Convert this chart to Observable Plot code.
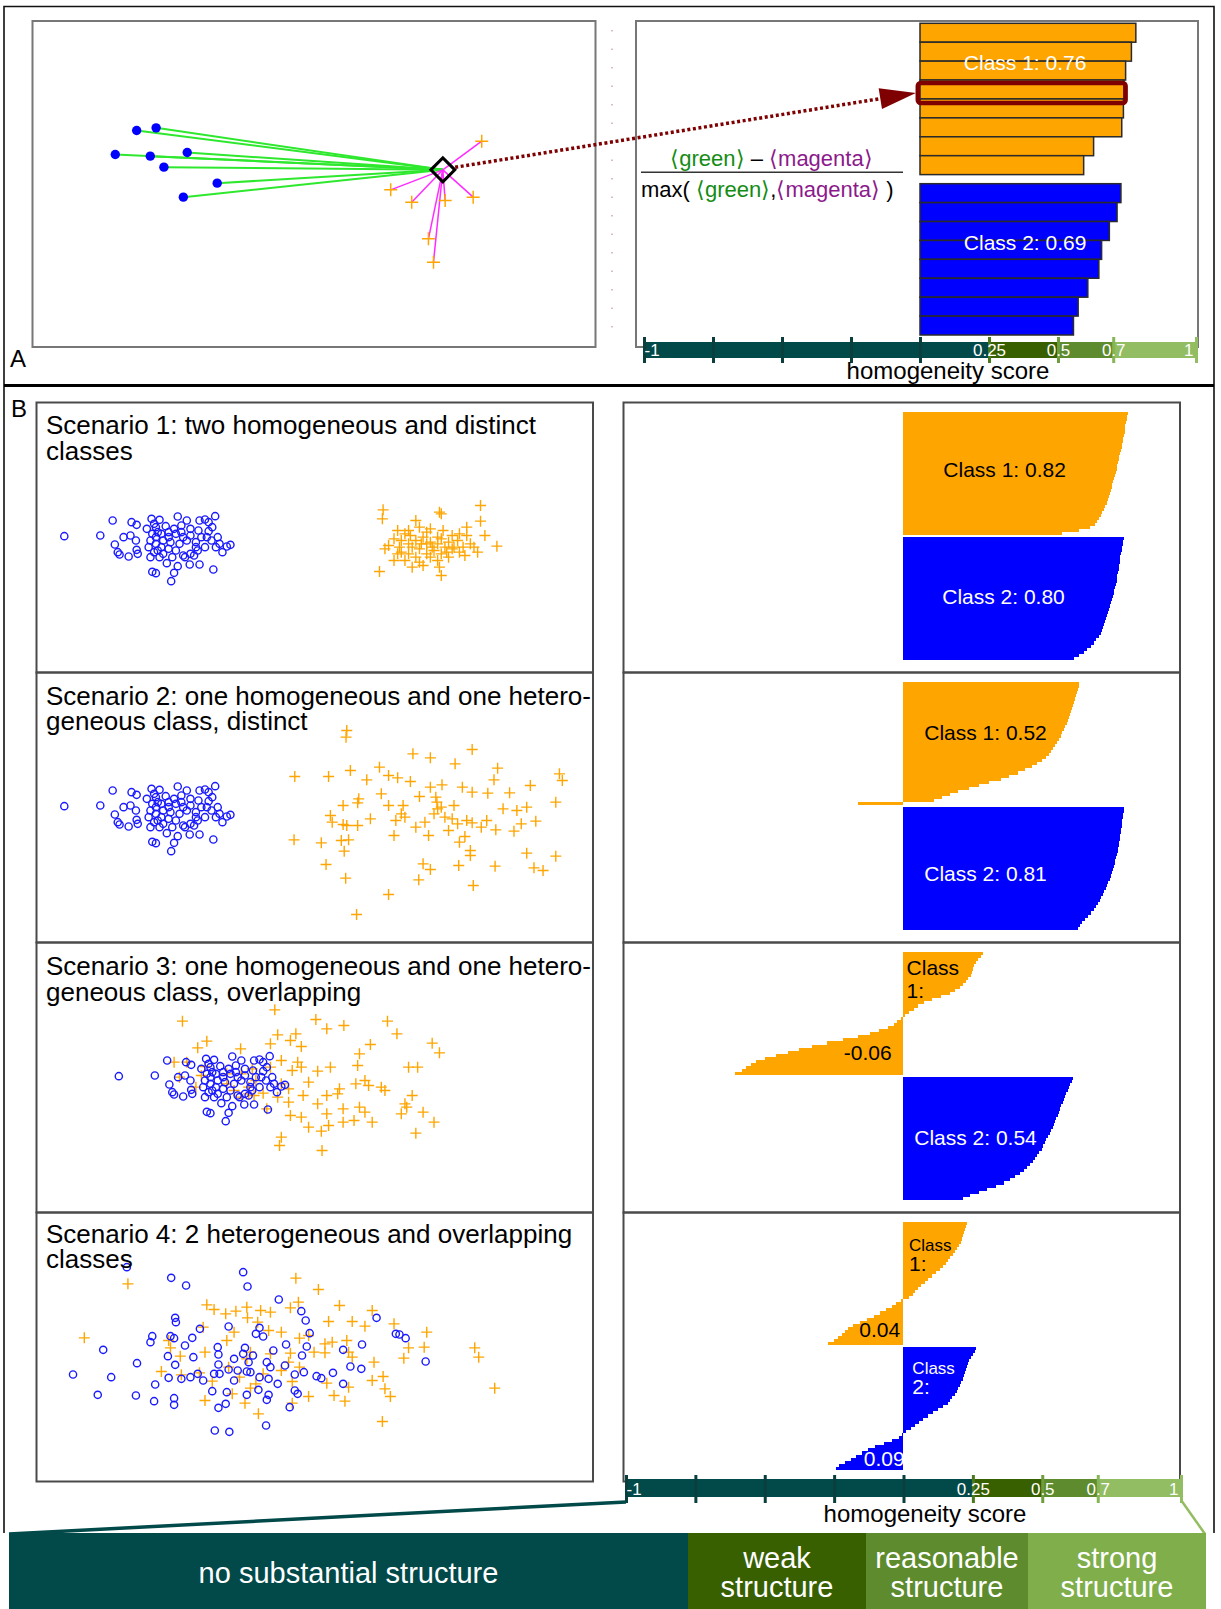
<!DOCTYPE html>
<html><head><meta charset="utf-8">
<script src="https://cdn.jsdelivr.net/npm/d3@7"></script>
<script src="https://cdn.jsdelivr.net/npm/@observablehq/plot@0.6"></script>
<style>
html,body{margin:0;padding:0;background:#fff;}
#root{position:relative;width:1221px;height:1609px;overflow:hidden;font-family:"Liberation Sans",Arial,Helvetica,sans-serif;}
.lbox{position:absolute;top:1533px;height:76px;color:#fff;display:flex;align-items:center;justify-content:center;text-align:center;font-size:29px;line-height:29px;box-sizing:border-box;padding-top:4px;}
</style></head><body><div id="root"></div>
<script>
// ---------------- DATA ----------------
const classes = ["Class 1", "Class 2"];
const scoreTicks = [-1, -0.75, -0.5, -0.25, 0, 0.25, 0.5, 0.7, 1];
const tickLabels = ["-1", "", "", "", "", "0.25", "0.5", "0.7", "1"];
const bandBreaks = [-1, 0.25, 0.5, 0.7, 1];
const bandNames = ["no substantial structure", "weak structure", "reasonable structure", "strong structure"];
const titles = [
  ["Scenario 1: two homogeneous and distinct", "classes"],
  ["Scenario 2: one homogeneous and one hetero-", "geneous class, distinct"],
  ["Scenario 3: one homogeneous and one hetero-", "geneous class, overlapping"],
  ["Scenario 4: 2 heterogeneous and overlapping", "classes"]
];
// panel A (feature space units)
const aBlue = [[350,390],[400,382],[295,462],[385,467],[480,456],[420,500],[557,548],[470,590]];
const aOrange = [[1237,422],[1003,568],[1057,605],[1143,600],[1215,590],[1100,715],[1113,785]];
const aQuery = [1137,508];
const silA1 = [0.782,0.766,0.745,0.739,0.737,0.731,0.629,0.593];
const silA2 = [0.728,0.714,0.686,0.658,0.648,0.608,0.573,0.556];
const meansA = ["0.76","0.69"];
// scenario 1
const s1Blue = [[93,407],[192,405],[226,360],[278,365],[292,373],[256,410],[275,405],[232,432],[290,420],[240,455],[245,462],[270,468],[295,460],[292,448],[333,355],[355,358],[340,370],[320,385],[345,380],[372,377],[405,348],[430,360],[415,375],[440,385],[465,360],[480,357],[490,365],[508,347],[462,390],[490,392],[515,410],[498,420],[520,430],[540,438],[550,433],[528,455],[510,440],[480,440],[460,450],[440,460],[420,465],[400,450],[380,445],[360,440],[345,430],[330,420],[345,410],[360,400],[335,400],[350,395],[380,410],[400,400],[420,410],[430,420],[455,425],[470,410],[440,405],[415,395],[395,385],[330,470],[355,470],[375,488],[405,497],[438,492],[465,492],[503,507],[335,514],[345,518],[395,517],[387,542],[425,470],[450,465],[390,470],[365,460],[410,430],[385,425],[365,420],[350,450],[455,440],[485,410],[500,380],[380,395],[325,440],[340,455]];
const s1Orange = [[970,328],[968,355],[1125,335],[1130,340],[1238,315],[1238,362],[1200,380],[1250,405],[1283,437],[960,513],[1130,525],[1000,480],[1050,500],[1080,495],[1120,480],[985,435],[975,445],[1010,390],[1030,400],[1060,360],[1070,380],[1100,385],[1135,390],[1160,405],[1175,420],[1190,440],[1195,465],[1230,455],[1210,430],[1000,415],[1020,420],[1040,430],[1060,420],[1080,410],[1100,425],[1120,430],[1140,440],[1160,445],[1180,455],[1020,455],[1040,460],[1060,470],[1090,460],[1110,450],[1130,460],[1150,470],[1010,460],[1050,440],[1070,445],[1090,430],[1120,410],[1150,425],[1040,390],[1090,395],[1130,415],[1165,440],[1200,405],[1220,440],[1030,480],[1070,485],[1100,470],[1125,500],[1180,400],[1045,405],[1015,440],[1075,430],[1105,440],[1145,455]];
const sil1Class1 = [0.811,0.809,0.807,0.805,0.803,0.802,0.800,0.798,0.796,0.794,0.791,0.789,0.786,0.784,0.781,0.779,0.776,0.774,0.771,0.768,0.765,0.762,0.759,0.756,0.753,0.750,0.746,0.743,0.740,0.736,0.731,0.726,0.720,0.715,0.708,0.700,0.692,0.675,0.636,0.575];
const sil1Class2 = [0.797,0.795,0.793,0.791,0.789,0.787,0.785,0.784,0.782,0.780,0.778,0.776,0.774,0.772,0.771,0.769,0.766,0.763,0.760,0.757,0.755,0.751,0.747,0.744,0.740,0.736,0.733,0.729,0.725,0.721,0.717,0.713,0.706,0.698,0.690,0.678,0.666,0.652,0.636,0.617];
const means1 = ["0.82","0.80"];
// scenario 2
const s2Blue = s1Blue;
const s2Orange = [[870,180],[868,200],[1215,237],[1052,250],[1100,262],[1168,280],[1285,293],[727,318],[820,318],[880,300],[925,328],[960,290],[985,315],[1010,322],[1045,333],[1275,328],[1455,310],[1463,330],[1100,350],[1132,343],[1188,350],[1215,365],[1258,368],[1318,367],[1375,345],[965,370],[1070,378],[1115,380],[903,385],[1118,395],[860,405],[900,397],[985,405],[1025,405],[1130,410],[1165,405],[1300,415],[1338,420],[1365,410],[1445,395],[825,435],[935,445],[1005,450],[1020,430],[1085,455],[1140,440],[1200,450],[1255,450],[1280,478],[1350,460],[1390,452],[860,462],[900,465],[870,465],[1150,480],[1175,460],[1215,457],[1330,482],[1000,495],[1095,495],[1195,498],[1180,515],[725,508],[800,517],[855,510],[875,508],[863,542],[1210,540],[1210,555],[1365,548],[1445,557],[813,582],[1080,580],[1100,597],[1178,585],[1278,587],[1385,592],[1410,600],[867,623],[1068,628],[1218,645],[985,672],[897,732],[1030,440],[1060,470],[1110,430],[1160,445],[1240,470],[830,455],[1120,415]];
const sil2Class1 = [0.637,0.634,0.630,0.627,0.624,0.621,0.618,0.614,0.611,0.607,0.604,0.600,0.595,0.591,0.586,0.580,0.575,0.570,0.563,0.556,0.550,0.543,0.535,0.527,0.515,0.500,0.485,0.466,0.442,0.414,0.383,0.352,0.312,0.276,0.240,0.200,0.170,0.141,0.111,-0.164];
const sil2Class2 = [0.799,0.797,0.795,0.794,0.792,0.791,0.789,0.788,0.786,0.785,0.783,0.781,0.779,0.777,0.775,0.773,0.770,0.767,0.764,0.761,0.758,0.754,0.750,0.746,0.741,0.737,0.732,0.727,0.722,0.716,0.710,0.703,0.696,0.688,0.678,0.668,0.657,0.648,0.639,0.630];
const means2 = ["0.52","0.81"];
// scenario 3
const s3Blue = [[243,407],[342,405],[376,360],[428,365],[442,373],[406,410],[425,405],[382,432],[440,420],[390,455],[395,462],[420,468],[445,460],[442,448],[483,355],[505,358],[490,370],[470,385],[495,380],[522,377],[555,348],[580,360],[565,375],[590,385],[615,360],[630,357],[640,365],[658,347],[612,390],[640,392],[665,410],[648,420],[670,430],[690,438],[700,433],[678,455],[660,440],[630,440],[610,450],[590,460],[570,465],[550,450],[530,445],[510,440],[495,430],[480,420],[495,410],[510,400],[485,400],[500,395],[530,410],[550,400],[570,410],[580,420],[605,425],[620,410],[590,405],[565,395],[545,385],[480,470],[505,470],[525,488],[555,497],[588,492],[615,492],[653,507],[485,514],[495,518],[545,517],[537,542],[575,470],[600,465],[540,470],[515,460],[560,430],[535,425],[515,420],[500,450],[605,440],[635,410],[650,380],[530,395],[475,440],[490,455]];
const s3Orange = [[672,208],[418,242],[785,237],[862,255],[815,265],[982,242],[1008,280],[680,283],[730,280],[715,300],[485,302],[460,322],[578,325],[660,310],[745,318],[935,312],[1105,308],[1125,337],[905,340],[395,365],[430,365],[480,378],[690,360],[735,365],[745,380],[900,375],[1040,380],[1065,380],[720,390],[790,392],[825,380],[410,410],[470,405],[540,400],[580,400],[610,385],[765,425],[895,430],[920,420],[930,435],[965,440],[975,450],[690,430],[710,445],[850,445],[845,460],[750,465],[815,465],[1050,465],[600,460],[615,465],[640,458],[680,470],[710,485],[790,490],[860,505],[905,500],[920,515],[1030,490],[1020,520],[1080,515],[650,505],[715,525],[745,530],[815,520],[860,545],[890,540],[940,545],[1110,545],[765,560],[820,555],[800,572],[690,590],[685,615],[1060,578],[802,630],[560,450],[580,470],[600,440],[540,430],[455,440],[620,420],[660,380],[1035,500]];
const sil3Class1 = [0.288,0.280,0.272,0.264,0.258,0.254,0.250,0.244,0.236,0.228,0.218,0.205,0.188,0.168,0.138,0.105,0.075,0.055,0.038,0.022,0.006,-0.008,-0.020,-0.032,-0.055,-0.085,-0.120,-0.164,-0.215,-0.275,-0.330,-0.375,-0.415,-0.460,-0.500,-0.530,-0.550,-0.566,-0.580,-0.605];
const sil3Class2 = [0.613,0.609,0.604,0.599,0.594,0.589,0.585,0.581,0.576,0.572,0.568,0.563,0.558,0.554,0.549,0.545,0.540,0.535,0.530,0.524,0.518,0.512,0.506,0.500,0.492,0.484,0.476,0.468,0.458,0.447,0.436,0.422,0.406,0.385,0.363,0.335,0.302,0.275,0.243,0.215];
const means3 = ["-0.06","0.54"];
// scenario 4
const s4Blue = [[265,170],[387,202],[428,225],[585,185],[597,228],[683,267],[745,302],[757,330],[952,322],[398,322],[400,335],[466,355],[545,348],[620,370],[630,352],[640,378],[768,368],[1005,370],[1015,372],[1032,383],[335,377],[330,395],[385,377],[395,383],[445,382],[425,405],[200,418],[378,437],[448,440],[515,410],[517,432],[590,412],[585,430],[612,435],[668,420],[703,402],[760,408],[747,435],[860,418],[912,402],[293,458],[398,463],[517,462],[545,477],[600,455],[570,480],[605,485],[650,455],[660,470],[700,465],[880,468],[910,475],[1087,453],[117,492],[222,500],[380,502],[415,505],[460,490],[475,510],[505,490],[520,490],[595,483],[655,505],[680,520],[727,492],[752,485],[787,497],[800,503],[832,487],[860,520],[343,522],[185,553],[290,555],[340,572],[395,563],[395,583],[500,542],[540,545],[560,510],[595,553],[627,538],[655,553],[650,568],[727,540],[735,550],[517,592],[537,580],[713,590],[648,645],[507,660],[547,664],[440,500],[630,500],[560,445]];
const s4Orange = [[268,220],[730,203],[792,237],[148,382],[485,283],[505,297],[537,310],[565,302],[595,290],[597,322],[633,300],[660,305],[625,335],[715,292],[737,275],[850,285],[940,300],[820,333],[885,333],[920,347],[1000,340],[1090,365],[475,350],[560,365],[655,360],[690,365],[740,383],[765,375],[540,390],[810,400],[830,395],[870,390],[380,390],[385,412],[412,437],[480,425],[595,445],[605,425],[715,428],[710,455],[780,425],[810,427],[875,425],[885,440],[1040,412],[1083,410],[1027,443],[1222,412],[1233,440],[945,455],[360,483],[415,493],[465,487],[545,470],[575,500],[640,490],[690,480],[720,513],[815,518],[875,530],[940,510],[970,498],[975,535],[990,558],[480,570],[555,550],[590,578],[605,533],[620,520],[765,558],[835,555],[865,572],[720,578],[627,610],[968,633],[1277,533],[500,512],[660,430],[740,470]];
const sil4Class1 = [0.231,0.228,0.224,0.221,0.217,0.212,0.208,0.202,0.196,0.188,0.179,0.171,0.163,0.154,0.146,0.133,0.118,0.104,0.091,0.078,0.066,0.055,0.045,0.036,0.020,-0.008,-0.024,-0.039,-0.060,-0.083,-0.105,-0.130,-0.155,-0.180,-0.197,-0.210,-0.222,-0.234,-0.250,-0.270];
const sil4Class2 = [0.264,0.259,0.254,0.247,0.240,0.235,0.232,0.228,0.224,0.220,0.216,0.211,0.206,0.200,0.194,0.187,0.178,0.170,0.162,0.145,0.125,0.107,0.089,0.074,0.057,0.042,0.028,0.012,-0.002,-0.015,-0.040,-0.068,-0.100,-0.125,-0.148,-0.168,-0.188,-0.210,-0.232,-0.243];
const means4 = ["0.04","0.09"];

// ---------------- STYLE / LAYOUT ----------------
const FONT = '"Liberation Sans", Arial, Helvetica, sans-serif';
const ORANGE = "#FFA500", BLUE = "#0000FF", BLUE_PT = "#1a1aff";
const BAR_COLORS = ["#02494a", "#386000", "#5e8b2d", "#93bd62"];
const BOX_COLORS = ["#02494a", "#386000", "#5e8b2d", "#7fae4b"];
const tickColor = t => t <= 0 ? "#0a3f3d" : t === 0.25 ? "#4a791d" : t === 0.5 ? "#6f9c3d" : t === 0.7 ? "#86b556" : "#93bd62";
// stroke-only plus whose arm length equals r
const plusSym = {draw(ctx, size) { const a = Math.sqrt(size / Math.PI); ctx.moveTo(-a, 0); ctx.lineTo(a, 0); ctx.moveTo(0, -a); ctx.lineTo(0, a); }};
const root = document.getElementById("root");
function put(el, left, top) { el.style.position = "absolute"; el.style.left = left + "px"; el.style.top = top + "px"; root.appendChild(el); return el; }
const TRANSP = {background: "transparent", overflow: "visible"};

// back layer: frames
const back = d3.create("svg").attr("width", 1221).attr("height", 1609);
put(back.node(), 0, 0);
back.append("path").attr("d", "M4,1533V6.5H1214V1533").attr("fill", "none").attr("stroke", "#111").attr("stroke-width", 1.6);
back.append("line").attr("x1", 4).attr("x2", 1214).attr("y1", 385.5).attr("y2", 385.5).attr("stroke", "#000").attr("stroke-width", 3);
back.append("rect").attr("x", 32.5).attr("y", 21).attr("width", 563).attr("height", 326).attr("fill", "none").attr("stroke", "#777").attr("stroke-width", 2);
back.append("rect").attr("x", 636).attr("y", 21).attr("width", 562).attr("height", 326).attr("fill", "none").attr("stroke", "#777").attr("stroke-width", 2);
back.append("line").attr("x1", 612).attr("x2", 612).attr("y1", 30).attr("y2", 335).attr("stroke", "#c9a9a9").attr("stroke-width", 1.5).attr("stroke-dasharray", "1.5 17");
const tops = [402.5, 672.5, 942.5, 1212.5, 1481.5];
for (let k = 0; k < 4; k++) {
  back.append("rect").attr("x", 36.5).attr("y", tops[k]).attr("width", 556.5).attr("height", tops[k+1] - tops[k]).attr("fill", "none").attr("stroke", "#4a4a4a").attr("stroke-width", 2);
  back.append("rect").attr("x", 623.5).attr("y", tops[k]).attr("width", 556.5).attr("height", tops[k+1] - tops[k]).attr("fill", "none").attr("stroke", "#4a4a4a").attr("stroke-width", 2);
}

// ---------------- PANEL A ----------------
const scatA = Plot.plot({
  width: 610, height: 390, margin: 0, style: TRANSP,
  x: {domain: [0, 1568], range: [0, 610], axis: null},
  y: {domain: [0, 1170], range: [0, 390], axis: null},
  marks: [
    Plot.link(aBlue, {x1: () => aQuery[0], y1: () => aQuery[1], x2: d => d[0], y2: d => d[1], stroke: "#2ee82e", strokeWidth: 2}),
    Plot.link(aOrange, {x1: () => aQuery[0], y1: () => aQuery[1], x2: d => d[0], y2: d => d[1], stroke: "#ff2cff", strokeWidth: 1.5}),
    Plot.dot(aBlue, {x: d => d[0], y: d => d[1], r: 4.7, fill: BLUE}),
    Plot.dot(aOrange, {x: d => d[0], y: d => d[1], symbol: plusSym, r: 6.5, fill: "none", stroke: ORANGE, strokeWidth: 1.5}),
    Plot.dot([aQuery], {x: d => d[0], y: d => d[1], symbol: "diamond2", r: 10.8, stroke: "#000", strokeWidth: 3, fill: "none"})
  ]
});
put(scatA, 0, 0);

const gapA = 0.48;
const rowsA1 = silA1.map((v, i) => ({v, y1: i, y2: i + 1}));
const rowsA2 = silA2.map((v, i) => ({v, y1: silA1.length + gapA + i, y2: silA1.length + gapA + i + 1}));
const silAPlot = Plot.plot({
  width: 611, height: 390, margin: 0, style: TRANSP,
  x: {domain: [-1, 1], range: [34, 586], axis: null},
  y: {domain: [0, silA1.length + gapA + silA2.length], range: [23.3, 335], axis: null},
  marks: [
    Plot.rect(rowsA1, {x1: () => 0, x2: "v", y1: "y1", y2: "y2", fill: ORANGE, stroke: "#2a2a2a", strokeWidth: 1.5}),
    Plot.rect(rowsA2, {x1: () => 0, x2: "v", y1: "y1", y2: "y2", fill: BLUE, stroke: "#2a2a2a", strokeWidth: 1.5}),
    Plot.rect([rowsA1[3]], {x1: () => -0.008, x2: d => d.v + 0.006, y1: d => d.y1 + 0.16, y2: d => d.y2 + 0.22, fill: "none", stroke: "#7f0000", strokeWidth: 4.5, rx: 3}),
    Plot.text([`${classes[0]}: ${meansA[0]}`], {x: () => 0.379, y: () => 2.1, text: d => d, fill: "white", fontSize: 21, fontFamily: FONT}),
    Plot.text([`${classes[1]}: ${meansA[1]}`], {x: () => 0.379, y: () => 11.62, text: d => d, fill: "white", fontSize: 21, fontFamily: FONT})
  ]
});
put(silAPlot, 610, 0);

function axisBar(left, top, width, height, range, barInsetTop, barInsetBottom, tickInset, fs) {
  const bands = bandNames.map((name, i) => ({name, lo: bandBreaks[i], hi: bandBreaks[i + 1]}));
  const marks = [
    Plot.rect(bands, {x1: "lo", x2: "hi", fill: "name", insetTop: barInsetTop, insetBottom: barInsetBottom})
  ];
  scoreTicks.forEach(t => marks.push(Plot.ruleX([t], {x: d => d, stroke: tickColor(t), strokeWidth: 3, insetTop: tickInset, insetBottom: tickInset})));
  scoreTicks.forEach((t, i) => {
    if (!tickLabels[i]) return;
    marks.push(Plot.text([tickLabels[i]], {x: () => t, frameAnchor: "middle", text: d => d, fill: "white", fontSize: fs, fontFamily: FONT,
      textAnchor: t === -1 ? "start" : t === 1 ? "end" : "middle", dx: t === 1 ? -3 : 0}));
  });
  const p = Plot.plot({width, height, margin: 0, style: TRANSP,
    x: {domain: [-1, 1], range, axis: null},
    color: {domain: bandNames, range: BAR_COLORS},
    marks});
  return put(p, left, top);
}
const axisA = axisBar(610, 334, 611, 32, [34, 586], 8, 8, 3, 17);

// ---------------- PANEL B ----------------
function scatterB(blue, orange, top) {
  const p = Plot.plot({
    width: 570, height: 275, margin: 0, style: TRANSP,
    x: {domain: [0, 1568], range: [0, 570], axis: null},
    y: {domain: [0, 825], range: [0, 275], axis: null},
    marks: [
      Plot.dot(orange, {x: d => d[0], y: d => d[1], symbol: plusSym, r: 5.5, fill: "none", stroke: ORANGE, strokeWidth: 1.4}),
      Plot.dot(blue, {x: d => d[0], y: d => d[1], r: 3.6, stroke: BLUE_PT, strokeWidth: 1.4, fill: "none"})
    ]
  });
  return put(p, 30, top);
}
scatterB(s1Blue, s1Orange, 400);
scatterB(s2Blue, s2Orange, 670);
scatterB(s3Blue, s3Orange, 940);
scatterB(s4Blue, s4Orange, 1210);

function silB(c1, c2, top, labels) {
  const gap = 0.4, n1 = c1.length, total = n1 + gap + c2.length;
  const r1 = c1.map((v, i) => ({v, y1: i, y2: i + 1}));
  const r2 = c2.map((v, i) => ({v, y1: n1 + gap + i, y2: n1 + gap + i + 1}));
  const p = Plot.plot({
    width: 557, height: 270, margin: 0, style: TRANSP,
    x: {domain: [-1, 1], range: [3, 557], axis: null},
    y: {domain: [0, total], range: [10, 258], axis: null},
    marks: [
      Plot.rect(r1, {x1: () => 0, x2: "v", y1: "y1", y2: "y2", fill: ORANGE, shapeRendering: "crispEdges"}),
      Plot.rect(r2, {x1: () => 0, x2: "v", y1: "y1", y2: "y2", fill: BLUE, shapeRendering: "crispEdges"}),
      ...labels.map(l => Plot.text([l.t], {x: () => l.x, y: () => l.y, text: d => d, textAnchor: l.a || "middle", fill: l.f, fontSize: l.s || 21, fontFamily: FONT}))
    ]
  });
  return put(p, 623, top);
}
const c1w = classes[0].split(" "), c2w = classes[1].split(" ");
silB(sil1Class1, sil1Class2, 402, [
  {t: `${classes[0]}: ${means1[0]}`, x: 0.365, y: 18.8, f: "#000"},
  {t: `${classes[1]}: ${means1[1]}`, x: 0.361, y: 60.0, f: "#fff"}
]);
silB(sil2Class1, sil2Class2, 672, [
  {t: `${classes[0]}: ${means2[0]}`, x: 0.296, y: 16.5, f: "#000"},
  {t: `${classes[1]}: ${means2[1]}`, x: 0.296, y: 62.2, f: "#fff"}
]);
silB(sil3Class1, sil3Class2, 942, [
  {t: c1w[0], x: 0.011, y: 5.2, f: "#000", a: "start"},
  {t: c1w[1] + ":", x: 0.011, y: 12.6, f: "#000", a: "start"},
  {t: means3[0], x: -0.043, y: 32.7, f: "#000", a: "end"},
  {t: `${classes[1]}: ${means3[1]}`, x: 0.26, y: 60.3, f: "#fff"}
]);
silB(sil4Class1, sil4Class2, 1212, [
  {t: c1w[0], x: 0.02, y: 7.5, f: "#000", a: "start", s: 17},
  {t: c1w[1] + ":", x: 0.02, y: 13.6, f: "#000", a: "start"},
  {t: means4[0], x: -0.012, y: 35.0, f: "#000", a: "end"},
  {t: c2w[0], x: 0.032, y: 47.3, f: "#fff", a: "start", s: 17},
  {t: c2w[1] + ":", x: 0.032, y: 53.5, f: "#fff", a: "start"},
  {t: means4[1], x: 0.004, y: 76.8, f: "#fff", a: "end"}
]);
const axisB = axisBar(620, 1472, 570, 34, [6, 561], 7, 9, 3, 17);

// ---------------- FRONT LAYER ----------------
const front = d3.create("svg").attr("width", 1221).attr("height", 1609).style("pointer-events", "none");
put(front.node(), 0, 0);
const txt = (x, y, s, size, anchor, fill) => front.append("text").attr("x", x).attr("y", y).attr("font-size", size).attr("text-anchor", anchor || "start").attr("fill", fill || "#000").attr("font-family", FONT).text(s);
txt(10, 367, "A", 24);
txt(11, 417, "B", 24);
const titleBase = [31.5, 32, 32.5, 30];
for (let k = 0; k < 4; k++) {
  txt(46, tops[k] + titleBase[k], titles[k][0], 26);
  txt(46, tops[k] + titleBase[k] + 25.5, titles[k][1], 26);
}
// formula
const num = front.append("text").attr("x", 771.5).attr("y", 166).attr("text-anchor", "middle").attr("font-size", 22).attr("font-family", FONT);
num.append("tspan").attr("fill", "#148c14").text("⟨green⟩");
num.append("tspan").attr("fill", "#000").text(" – ");
num.append("tspan").attr("fill", "#8c1a8c").text("⟨magenta⟩");
front.append("line").attr("x1", 641).attr("x2", 903).attr("y1", 172.3).attr("y2", 172.3).attr("stroke", "#333").attr("stroke-width", 1.5);
const den = front.append("text").attr("x", 641).attr("y", 197).attr("font-size", 22).attr("font-family", FONT);
den.append("tspan").attr("fill", "#000").text("max( ");
den.append("tspan").attr("fill", "#148c14").text("⟨green⟩");
den.append("tspan").attr("fill", "#000").text(",");
den.append("tspan").attr("fill", "#8c1a8c").text("⟨magenta⟩");
den.append("tspan").attr("fill", "#000").text(" )");

// arrow from query point to its bar
const sx = scatA.scale("x"), sy = scatA.scale("y");
const ax = silAPlot.scale("x"), ay = silAPlot.scale("y");
const p0 = [sx.apply(aQuery[0]), sy.apply(aQuery[1])];
const tip = [610 + ax.apply(-0.015), ay.apply(rowsA1[3].y1 + 0.68)];
const L = Math.hypot(tip[0] - p0[0], tip[1] - p0[1]);
const u = [(tip[0] - p0[0]) / L, (tip[1] - p0[1]) / L], nrm = [-u[1], u[0]];
const base = [tip[0] - 36 * u[0], tip[1] - 36 * u[1]];
front.append("line").attr("x1", p0[0] + 13 * u[0]).attr("y1", p0[1] + 13 * u[1]).attr("x2", base[0]).attr("y2", base[1])
  .attr("stroke", "#7f0000").attr("stroke-width", 3.5).attr("stroke-dasharray", "3 2.6");
front.append("path").attr("d", `M${tip[0]},${tip[1]}L${base[0] + 10.5 * nrm[0]},${base[1] + 10.5 * nrm[1]}L${base[0] - 10.5 * nrm[0]},${base[1] - 10.5 * nrm[1]}Z`).attr("fill", "#7f0000");

txt(948, 379, "homogeneity score", 24, "middle");
txt(925, 1522, "homogeneity score", 24, "middle");

// connectors from axis to the category boxes
const bx = axisB.scale("x");
front.append("line").attr("x1", 620 + bx.apply(-1)).attr("y1", 1502).attr("x2", 9).attr("y2", 1534).attr("stroke", BOX_COLORS[0]).attr("stroke-width", 3.5);
front.append("line").attr("x1", 620 + bx.apply(1)).attr("y1", 1500).attr("x2", 1205).attr("y2", 1534).attr("stroke", BAR_COLORS[3]).attr("stroke-width", 2.5);

// category boxes
const boxEdges = [9, 688, 866, 1028, 1206];
bandNames.forEach((name, i) => {
  const d = document.createElement("div");
  d.className = "lbox";
  d.style.left = boxEdges[i] + "px";
  d.style.width = (boxEdges[i + 1] - boxEdges[i]) + "px";
  d.style.background = BOX_COLORS[i];
  if (i === 0) d.textContent = name;
  else { const w = name.split(" "); d.innerHTML = w[0] + "<br>" + w[1]; }
  root.appendChild(d);
});
</script>
</body></html>
